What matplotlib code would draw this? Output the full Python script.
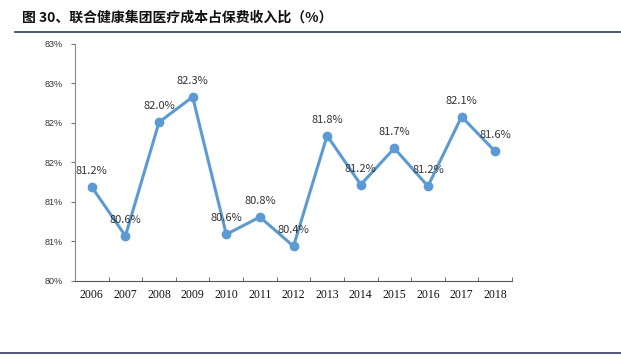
import matplotlib.pyplot as plt
from matplotlib.lines import Line2D

years = ['2006', '2007', '2008', '2009', '2010', '2011', '2012',
         '2013', '2014', '2015', '2016', '2017', '2018']
ratio = [81.19, 80.57, 82.01, 82.33, 80.59, 80.81, 80.44,
         81.84, 81.22, 81.68, 81.20, 82.08, 81.64]
ytick_vals = [80, 80.5, 81, 81.5, 82, 82.5, 83]
ytick_labels = ['80%', '81%', '81%', '82%', '82%', '83%', '83%']

title = '图 30、联合健康集团医疗成本占保费收入比（%）'

fig = plt.figure(figsize=(6.21, 3.57), dpi=100)
ax = fig.add_axes([75 / 621, 1 - 281 / 357, 437 / 621, 237 / 357])

x = list(range(len(years)))
ax.plot(x, ratio, color='#5B9BD5', lw=2.2, marker='o', ms=6, zorder=3)

for xi, v in zip(x, ratio):
    ax.annotate(f'{v:.1f}%', (xi, v), xytext=(0, 8), textcoords='offset points',
                ha='center', va='bottom', fontsize=8, color='#333333',
                family=['Noto Sans CJK SC', 'DejaVu Sans'])

ax.set_xlim(-0.5, len(years) - 0.5)
ax.set_ylim(80, 83)
ax.set_yticks(ytick_vals)
ax.set_yticklabels(ytick_labels, family='Liberation Sans', fontsize=6.5, color='#333333')
ax.set_xticks(x)
ax.set_xticklabels(years, family='Liberation Serif', fontsize=8.5, color='#111111')
ax.set_xticks([i - 0.5 for i in range(len(years) + 1)], minor=True)
ax.tick_params(axis='x', which='major', length=0, pad=6)
ax.tick_params(axis='x', which='minor', direction='in', length=3, color='#555555')
ax.tick_params(axis='y', direction='out', length=3, color='#777777', pad=6)

for s in ['top', 'right']:
    ax.spines[s].set_visible(False)
ax.spines['left'].set_color('#888888')
ax.spines['bottom'].set_color('#555555')

fig.text(22 / 621, 1 - 18 / 357, title, fontsize=10, fontweight='bold',
         va='center', ha='left', family=['Noto Sans CJK SC', 'DejaVu Sans'], color='#111111')
fig.add_artist(Line2D([15 / 621, 1], [1 - 32 / 357] * 2, color='#2E3A6E', lw=1.2))
fig.add_artist(Line2D([0, 1], [1 - 353 / 357] * 2, color='#2E3A6E', lw=1.2))

fig.savefig('out.png', dpi=100)
